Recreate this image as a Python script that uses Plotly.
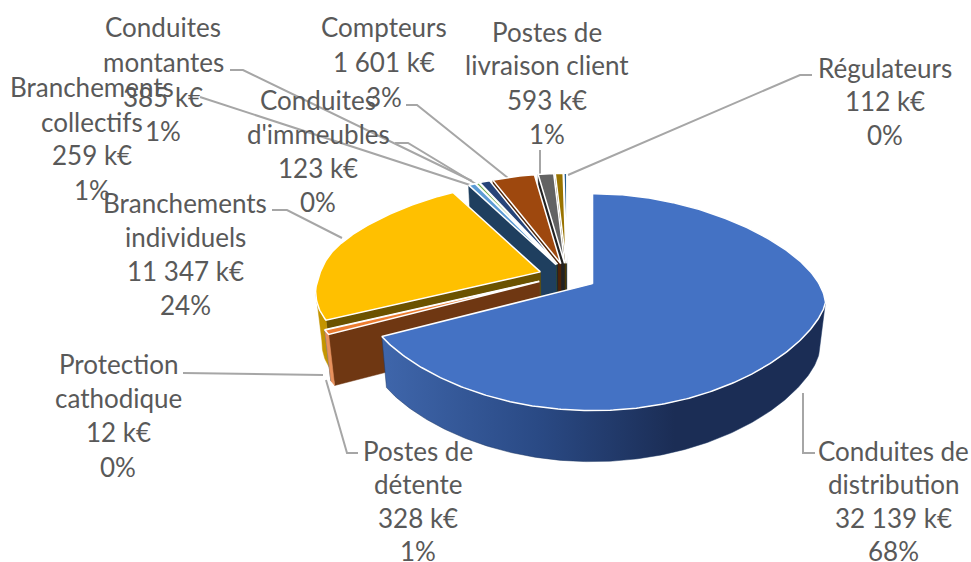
import math
import plotly.graph_objects as go

# ---- data, clockwise from 12 o'clock ----
categories = ["Conduites de distribution", "Postes de détente", "Protection cathodique",
              "Branchements individuels", "Branchements collectifs", "Conduites d'immeubles",
              "Conduites montantes", "Compteurs", "Postes de livraison client", "Non étiqueté", "Régulateurs"]
values = [32139, 328, 12, 11347, 259, 123, 385, 1601, 593, 300, 112]
top_colors = ["#4472c4", "#ed7d31", "#a5a5a5", "#ffc000", "#5b9bd5", "#70ad47",
              "#264478", "#9e480e", "#636363", "#997300", "#255e91"]
side_colors = ["#1f3864", "#6f3712", "#555555", "#6b5200", "#1f3f5f", "#375623",
               "#131f3a", "#4f2407", "#222222", "#4c3900", "#123050"]
rim_colors = ["#1f3864", "#e8915c", "#888888", "#c49500", "#1f3f5f", "#375623",
              "#131f3a", "#4f2407", "#222222", "#4c3900", "#123050"]

# label text: (centre x, list of (y, text))
labels = [
    (163, [(27, "Conduites"), (62, "montantes"), (97, "385 k€"), (131, "1%")]),
    (384, [(27, "Compteurs"), (62, "1 601 k€"), (97, "3%")]),
    (547, [(32, "Postes de"), (65, "livraison client"), (100, "593 k€"), (134, "1%")]),
    (885, [(68, "Régulateurs"), (101, "112 k€"), (135, "0%")]),
    (92,  [(87, "Branchements"), (122, "collectifs"), (155, "259 k€"), (190, "1%")]),
    (318, [(100, "Conduites"), (134, "d'immeubles"), (168, "123 k€"), (202, "0%")]),
    (185, [(203, "Branchements"), (237, "individuels"), (271, "11 347 k€"), (305, "24%")]),
    (118, [(364, "Protection"), (398, "cathodique"), (432, "12 k€"), (467, "0%")]),
    (418, [(451, "Postes de"), (484, "détente"), (518, "328 k€"), (551, "1%")]),
    (893, [(451, "Conduites de"), (484, "distribution"), (518, "32 139 k€"), (551, "68%")]),
]
leaders = [
    ([812, 800, 568], [75, 75, 175]),
    ([540, 540], [150, 175]),
    ([406, 417, 508], [105, 105, 178]),
    ([230, 243, 472], [70, 70, 181]),
    ([395, 408, 476], [143, 143, 184]),
    ([200, 470], [97, 185]),
    ([272, 287, 342], [210, 210, 238]),
    ([183, 323], [373, 375]),
    ([358, 347, 326], [453, 453, 380]),
    ([815, 803, 803], [453, 453, 393]),
]

# ---- projection of the tilted pie ----
CX, CY = 567, 275
RX, R_FAR, R_NEAR = 233, 90, 127
DEPTH = 51
EXPLODE = 0.13
FAR_NARROW = 0.15
BOTTOM_SCALE = 0.975
BULGE = 18
NEAR_POWER = 1.39
FAR_POWER = 0.8
LEFT_TRIM = 0.035


def project(theta):
    s, c = math.sin(theta), math.cos(theta)
    x = RX * s * (1 - FAR_NARROW * max(c, 0))
    if s < 0:
        x *= 1 - LEFT_TRIM * s ** 24
    y = -R_FAR * c ** FAR_POWER if c > 0 else R_NEAR * abs(c) ** NEAR_POWER
    return x, y + BULGE * s * s


def low(x):
    return CX + (x - CX) * BOTTOM_SCALE


def arc(a, b, ax, ay):
    n = max(2, int(abs(b - a) * 80))
    pts = [project(a + (b - a) * i / n) for i in range(n + 1)]
    return [ax + p[0] for p in pts], [ay + p[1] for p in pts]


total = sum(values)
fig = go.Figure()
for xs, ys in leaders:
    fig.add_trace(go.Scatter(x=xs, y=ys, mode="lines", line=dict(color="#a6a6a6", width=2), hoverinfo="skip"))

# slice angles
angles = []
acc = 0
for v in values:
    a = acc / total * 2 * math.pi
    acc += v
    angles.append((a, acc / total * 2 * math.pi))


def poly(xs, ys, fill, line=None, width=0, **kw):
    fig.add_trace(go.Scatter(x=xs + xs[:1], y=ys + ys[:1], mode="lines", fill="toself", fillcolor=fill,
                             line=dict(color=line or fill, width=width), hoverinfo="skip", **kw))


# paint back to front: rear small slices from the last one, then blue on top
order = list(range(len(values) - 1, 0, -1)) + [0]
for i in order:
    a, b = angles[i]
    mid = (a + b) / 2
    ox, oy = project(mid)
    ax, ay = CX + EXPLODE * ox, CY + EXPLODE * oy
    # radial wall on the starting edge
    if i != 0:
        rx, ry = project(a)
        poly([ax, ax + rx, low(ax + rx), low(ax)], [ay, ay + ry, ay + ry + DEPTH, ay + DEPTH],
             side_colors[i], side_colors[i], 0.5)
    # outer wall on the near half
    lo, hi = max(a, math.pi / 2), min(b, 3 * math.pi / 2)
    if hi > lo:
        x1, y1 = arc(lo, hi, ax, ay)
        x2, y2 = arc(hi, lo, ax, ay)
        x2 = [low(v) for v in x2]
        y2 = [v + DEPTH for v in y2]
        if i == 0:
            poly(x1 + x2, y1 + y2, "#1f3864", "#1f3864", 0.5,
                 fillgradient=dict(type="horizontal",
                                   colorscale=[[0, "#3f66ab"], [0.35, "#2a4a85"], [0.66, "#1b2d55"], [1, "#1b2d55"]]))
        else:
            poly(x1 + x2, y1 + y2, rim_colors[i], rim_colors[i], 0.5)
    # top face
    x, y = arc(a, b, ax, ay)
    poly([ax] + x, [ay] + y, top_colors[i], "#ffffff", 1.5)

annotations = []
for cx, lines in labels:
    for y, t in lines:
        annotations.append(dict(x=cx, y=y, text=t, showarrow=False, xanchor="center", yanchor="middle",
                                font=dict(family="Lato", size=26, color="#595959")))

fig.update_layout(
    width=971, height=562, margin=dict(l=0, r=0, t=0, b=0), showlegend=False,
    paper_bgcolor="#ffffff", plot_bgcolor="#ffffff", annotations=annotations,
    xaxis=dict(range=[0, 971], visible=False, fixedrange=True),
    yaxis=dict(range=[562, 0], visible=False, fixedrange=True),
)
fig.write_html("out.html", config={"displayModeBar": False},
               post_script="document.body.style.margin='0';document.documentElement.style.overflow='hidden';")
